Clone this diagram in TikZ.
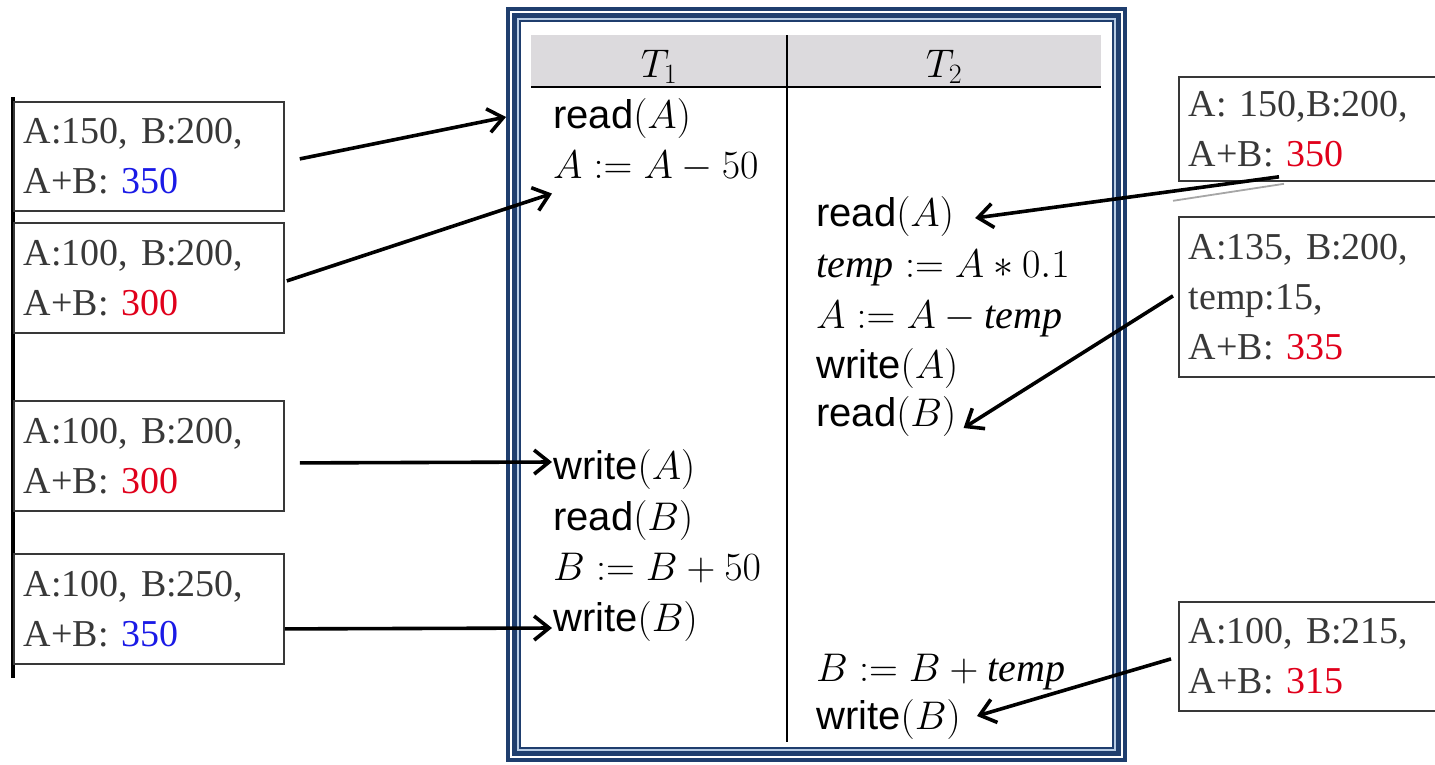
\RequirePackage{fix-cm}
\documentclass[tikz,border=0pt]{standalone}
\usepackage{fontspec}
\setmainfont{Liberation Serif}
\setsansfont{Liberation Sans}
\usetikzlibrary{arrows.meta}
\definecolor{navy}{HTML}{1F3E6E}
\definecolor{paleblue}{HTML}{B8CCE4}
\definecolor{headgray}{HTML}{DCDADD}
\definecolor{boxgray}{HTML}{383838}
\definecolor{sumred}{HTML}{E0001B}
\definecolor{sumblue}{HTML}{1A1AE6}
\newcommand{\kw}[1]{\textsf{#1}}
\tikzset{every node/.style={inner sep=0pt},line cap=round,line join=round}

\begin{document}
\begin{tikzpicture}[x=1pt,y=-1pt,
  cell/.style={anchor=base west,font=\fontsize{40}{48}\selectfont},
  head/.style={anchor=base,font=\fontsize{40}{48}\selectfont},
  state/.style={draw=boxgray,line width=1.8pt,text=boxgray,anchor=north west,minimum width=270pt,
    text width=250pt,inner xsep=10pt,align=left,font=\fontsize{38}{50}\selectfont},
  link/.style={line width=3.6pt,-{Straight Barb[length=15pt,width=24pt]}}]
  \path[use as bounding box] (0,0) rectangle (1435,764);
  \fill[navy] (506,7) rectangle (1127,762);
  \fill[white] (510,11) rectangle (1123,758);
  \fill[navy] (512,13) rectangle (1121,756);
  \fill[paleblue] (517,18) rectangle (1116,751);
  \fill[navy] (519,20) rectangle (1114,749);
  \fill[white] (521,22) rectangle (1112,747);
  \fill[headgray] (531,35) rectangle (1101,87);
  \draw[line width=2.4pt] (531,87) -- (1101,87);
  \draw[line width=2.2pt] (787,35) -- (787,742);
  \node[head] (h1) at (659,77) {$T_1$};
  \node[head] (h2) at (944,77) {$T_2$};

  \node[cell] (t1a) at (553,128) {\kw{read}$(A)$};
  \node[cell] (t1b) at (553,178) {$A := A - 50$};
  \node[cell] (t1c) at (553,479) {\kw{write}$(A)$};
  \node[cell] (t1d) at (553,530) {\kw{read}$(B)$};
  \node[cell] (t1e) at (553,580) {$B := B + 50$};
  \node[cell] (t1f) at (553,631) {\kw{write}$(B)$};

  \node[cell] (t2a) at (816,226) {\kw{read}$(A)$};
  \node[cell] (t2b) at (816,277) {$\mathit{temp} := A * 0.1$};
  \node[cell] (t2c) at (816,328) {$A := A - \mathit{temp}$};
  \node[cell] (t2d) at (816,378) {\kw{write}$(A)$};
  \node[cell] (t2e) at (816,426) {\kw{read}$(B)$};
  \node[cell] (t2f) at (816,681) {$B := B + \mathit{temp}$};
  \node[cell] (t2g) at (816,729) {\kw{write}$(B)$};

  \draw[line width=3.5pt] (13,97) -- (13,678);
  \node[state,minimum height=109pt] (box1) at (13,101) {A:150, B:200,\\A+B: \textcolor{sumblue}{350}};
  \node[state,minimum height=110pt] (box2) at (13,222) {A:100, B:200,\\A+B: \textcolor{sumred}{300}};
  \node[state,minimum height=110pt] (box3) at (13,400) {A:100, B:200,\\A+B: \textcolor{sumred}{300}};
  \node[state,minimum height=110pt] (box4) at (13,553) {A:100, B:250,\\A+B: \textcolor{sumblue}{350}};

  \node[state,minimum height=104pt] (r1) at (1178,76) {A: 150,B:200,\\A+B: \textcolor{sumred}{350}};
  \node[state,minimum height=160pt] (r2) at (1178,216) {A:135, B:200,\\temp:15,\\A+B: \textcolor{sumred}{335}};
  \node[state,minimum height=109pt] (r3) at (1178,601) {A:100, B:215,\\A+B: \textcolor{sumred}{315}};

  \draw[link] ([shift={(15pt,-2.5pt)}]box1.east) -- ([shift={(-47pt,1pt)}]t1a.west);
  \draw[link] ([shift={(2pt,-3pt)}]box2.east) -- ([shift={(-1pt,-12pt)}]t1b.south west);
  \draw[link] ([shift={(15pt,-7pt)}]box3.east) -- ([shift={(-1pt,7pt)}]t1c.west);
  \draw[link] ([shift={(0pt,-20pt)}]box4.east) -- ([shift={(-1pt,-7pt)}]t1f.west);

  \draw[gray!70,line width=1.8pt] ([shift={(-5pt,-19pt)}]r1.south west) -- ([shift={(106pt,-2pt)}]r1.south west);
  \draw[link] ([shift={(101pt,5pt)}]r1.south west) -- ([shift={(21pt,-2pt)}]t2a.east);
  \draw[link] ([shift={(-5pt,1pt)}]r2.west) -- ([shift={(7pt,-12pt)}]t2e.east);
  \draw[link] ([shift={(-7pt,-2.5pt)}]r3.west) -- ([shift={(16pt,3pt)}]t2g.east);
\end{tikzpicture}
\end{document}
